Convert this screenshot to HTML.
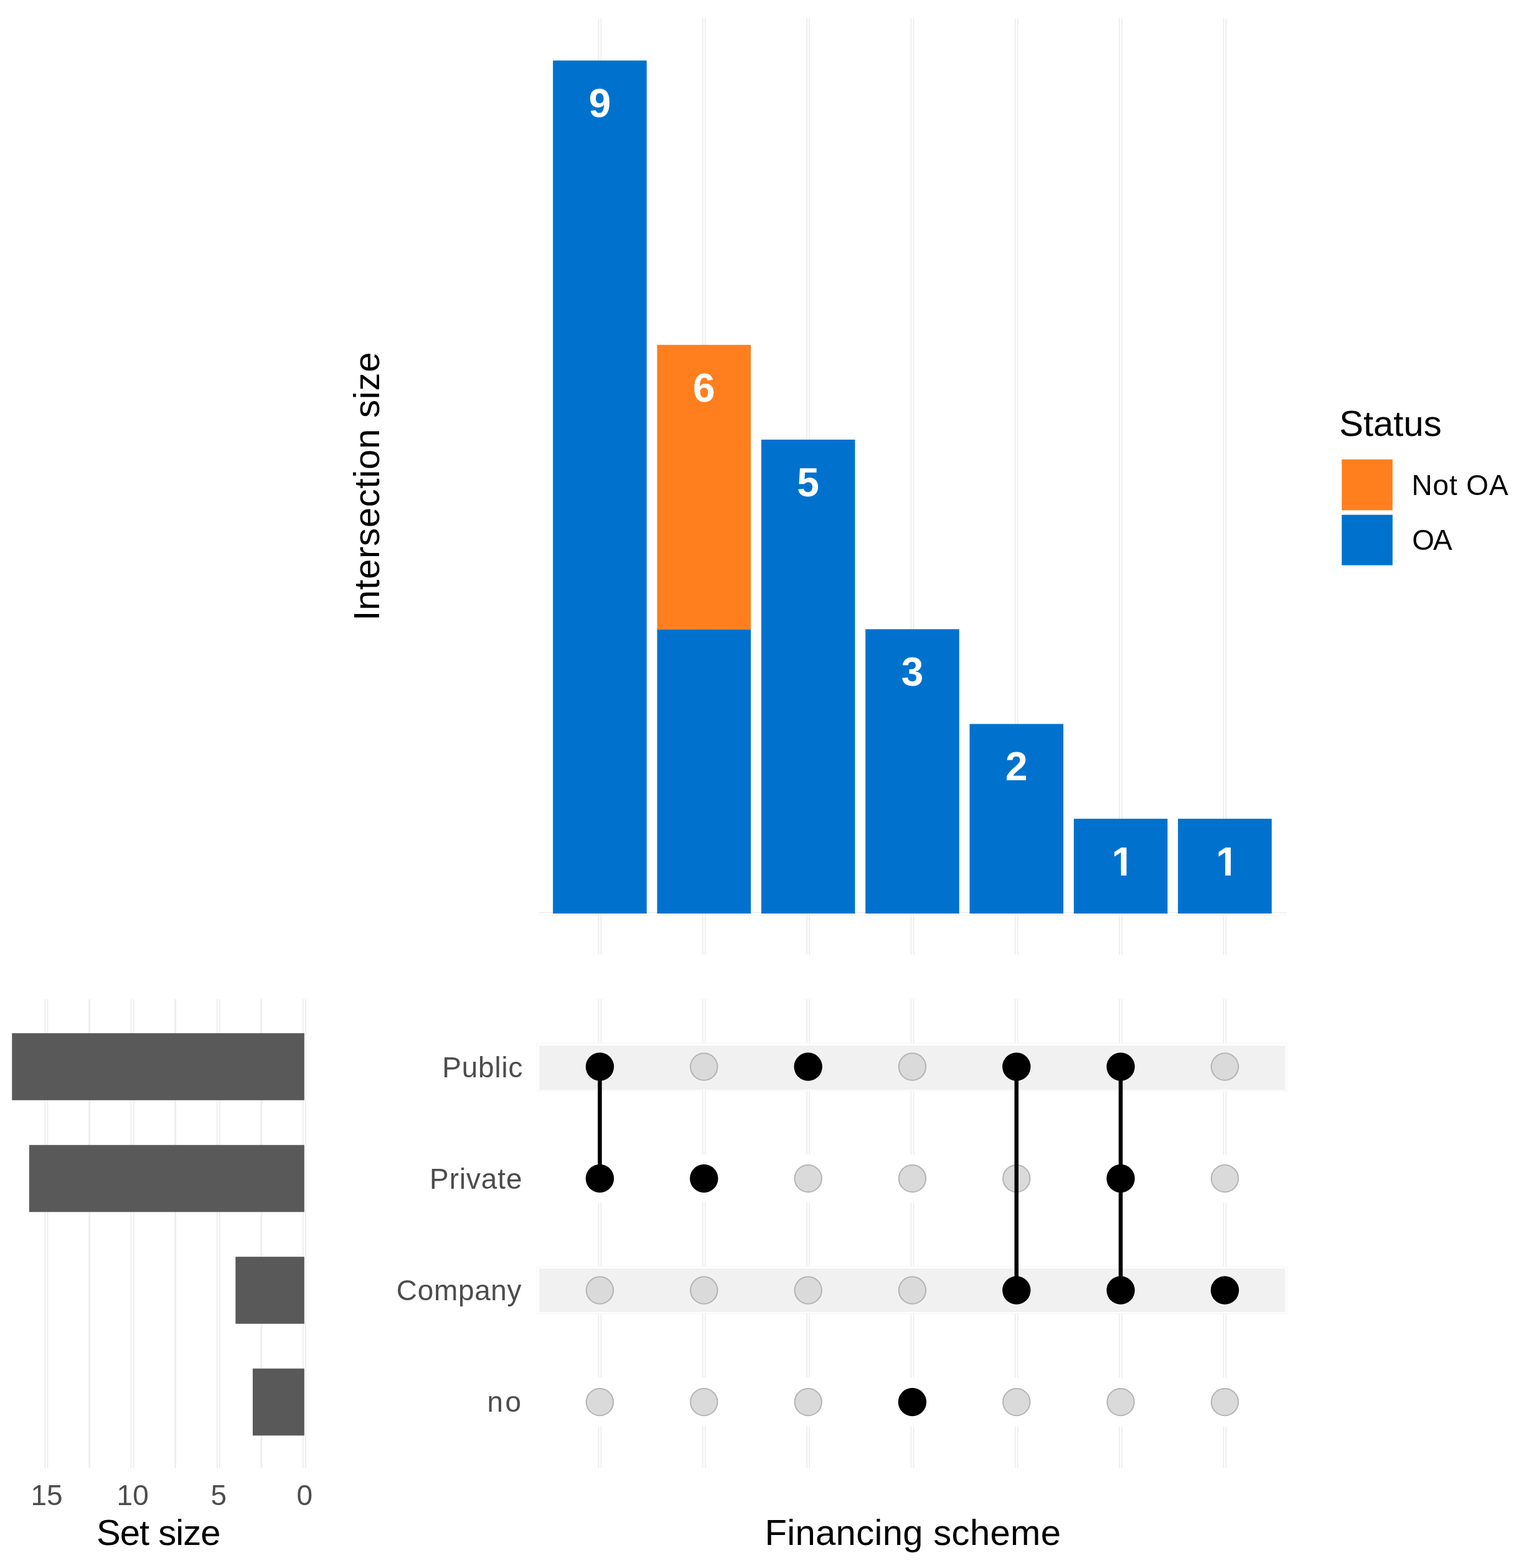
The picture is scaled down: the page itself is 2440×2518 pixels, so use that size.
<!DOCTYPE html>
<html><head><meta charset="utf-8"><title>UpSet plot: Financing scheme</title>
<style>
html,body{margin:0;padding:0;background:#fff;}
body{width:2440px;height:2518px;overflow:hidden;}
svg{display:block;}
text{font-family:"Liberation Sans",Arial,Helvetica,sans-serif;}
.lab{font-size:64px;font-weight:bold;fill:#fff;}
.ttl{font-size:58px;fill:#000;}
.leg{font-size:46px;fill:#000;}
.axt{font-size:46px;fill:#4D4D4D;}
</style></head>
<body>
<svg width="2440" height="2518" viewBox="0 0 2440 2518">
<rect x="0" y="0" width="2440" height="2518" fill="#fff"/>
<line x1="961.50" y1="29" x2="961.50" y2="1533" stroke="#EBEBEB" stroke-width="1.6"/>
<line x1="965.50" y1="29" x2="965.50" y2="1533" stroke="#EBEBEB" stroke-width="1.6"/>
<line x1="1128.83" y1="29" x2="1128.83" y2="1533" stroke="#EBEBEB" stroke-width="1.6"/>
<line x1="1132.83" y1="29" x2="1132.83" y2="1533" stroke="#EBEBEB" stroke-width="1.6"/>
<line x1="1296.16" y1="29" x2="1296.16" y2="1533" stroke="#EBEBEB" stroke-width="1.6"/>
<line x1="1300.16" y1="29" x2="1300.16" y2="1533" stroke="#EBEBEB" stroke-width="1.6"/>
<line x1="1463.49" y1="29" x2="1463.49" y2="1533" stroke="#EBEBEB" stroke-width="1.6"/>
<line x1="1467.49" y1="29" x2="1467.49" y2="1533" stroke="#EBEBEB" stroke-width="1.6"/>
<line x1="1630.82" y1="29" x2="1630.82" y2="1533" stroke="#EBEBEB" stroke-width="1.6"/>
<line x1="1634.82" y1="29" x2="1634.82" y2="1533" stroke="#EBEBEB" stroke-width="1.6"/>
<line x1="1798.15" y1="29" x2="1798.15" y2="1533" stroke="#EBEBEB" stroke-width="1.6"/>
<line x1="1802.15" y1="29" x2="1802.15" y2="1533" stroke="#EBEBEB" stroke-width="1.6"/>
<line x1="1965.48" y1="29" x2="1965.48" y2="1533" stroke="#EBEBEB" stroke-width="1.6"/>
<line x1="1969.48" y1="29" x2="1969.48" y2="1533" stroke="#EBEBEB" stroke-width="1.6"/>
<line x1="864.5" y1="1465.5" x2="2066.5" y2="1465.5" stroke="#ECECEC" stroke-width="1.6"/>
<line x1="864.5" y1="1469.5" x2="2066.5" y2="1469.5" stroke="#F6F6F6" stroke-width="1.6"/>
<rect x="888.20" y="97.20" width="150.6" height="1369.80" fill="#0072CE"/>
<text x="963.50" y="188.00" text-anchor="middle" class="lab">9</text>
<rect x="1055.53" y="1010.40" width="150.6" height="456.60" fill="#0072CE"/>
<rect x="1055.53" y="553.80" width="150.6" height="456.60" fill="#FF7F1E"/>
<text x="1130.83" y="644.60" text-anchor="middle" class="lab">6</text>
<rect x="1222.86" y="706.00" width="150.6" height="761.00" fill="#0072CE"/>
<text x="1298.16" y="796.80" text-anchor="middle" class="lab">5</text>
<rect x="1390.19" y="1010.40" width="150.6" height="456.60" fill="#0072CE"/>
<text x="1465.49" y="1101.20" text-anchor="middle" class="lab">3</text>
<rect x="1557.52" y="1162.60" width="150.6" height="304.40" fill="#0072CE"/>
<text x="1632.82" y="1253.40" text-anchor="middle" class="lab">2</text>
<rect x="1724.85" y="1314.80" width="150.6" height="152.20" fill="#0072CE"/>
<text x="1803.65" y="1405.60" text-anchor="middle" class="lab">1</text>
<rect x="1787.88" y="1398.77" width="12.91" height="8.53" fill="#0072CE"/>
<rect x="1809.57" y="1398.77" width="12.09" height="8.53" fill="#0072CE"/>
<rect x="1892.18" y="1314.80" width="150.6" height="152.20" fill="#0072CE"/>
<text x="1970.98" y="1405.60" text-anchor="middle" class="lab">1</text>
<rect x="1955.21" y="1398.77" width="12.91" height="8.53" fill="#0072CE"/>
<rect x="1976.90" y="1398.77" width="12.09" height="8.53" fill="#0072CE"/>
<text transform="translate(609.0,781.2) rotate(-90)" text-anchor="middle" textLength="431.30" lengthAdjust="spacing" class="ttl">Intersection size</text>
<text x="2151.30" y="700.40" class="ttl">Status</text>
<rect x="2155.3" y="737.7" width="81.6" height="81.7" fill="#FF7F1E"/>
<rect x="2155.3" y="826.7" width="81.6" height="81.0" fill="#0072CE"/>
<text x="2267.50" y="794.80" textLength="155.20" lengthAdjust="spacing" class="leg">Not OA</text>
<text x="2268.20" y="883.20" textLength="64.60" lengthAdjust="spacing" class="leg">OA</text>
<line x1="961.50" y1="1604.5" x2="961.50" y2="2357" stroke="#EBEBEB" stroke-width="1.6"/>
<line x1="965.50" y1="1604.5" x2="965.50" y2="2357" stroke="#EBEBEB" stroke-width="1.6"/>
<line x1="1128.83" y1="1604.5" x2="1128.83" y2="2357" stroke="#EBEBEB" stroke-width="1.6"/>
<line x1="1132.83" y1="1604.5" x2="1132.83" y2="2357" stroke="#EBEBEB" stroke-width="1.6"/>
<line x1="1296.16" y1="1604.5" x2="1296.16" y2="2357" stroke="#EBEBEB" stroke-width="1.6"/>
<line x1="1300.16" y1="1604.5" x2="1300.16" y2="2357" stroke="#EBEBEB" stroke-width="1.6"/>
<line x1="1463.49" y1="1604.5" x2="1463.49" y2="2357" stroke="#EBEBEB" stroke-width="1.6"/>
<line x1="1467.49" y1="1604.5" x2="1467.49" y2="2357" stroke="#EBEBEB" stroke-width="1.6"/>
<line x1="1630.82" y1="1604.5" x2="1630.82" y2="2357" stroke="#EBEBEB" stroke-width="1.6"/>
<line x1="1634.82" y1="1604.5" x2="1634.82" y2="2357" stroke="#EBEBEB" stroke-width="1.6"/>
<line x1="1798.15" y1="1604.5" x2="1798.15" y2="2357" stroke="#EBEBEB" stroke-width="1.6"/>
<line x1="1802.15" y1="1604.5" x2="1802.15" y2="2357" stroke="#EBEBEB" stroke-width="1.6"/>
<line x1="1965.48" y1="1604.5" x2="1965.48" y2="2357" stroke="#EBEBEB" stroke-width="1.6"/>
<line x1="1969.48" y1="1604.5" x2="1969.48" y2="2357" stroke="#EBEBEB" stroke-width="1.6"/>
<rect x="861.8" y="1674.6" width="1206.4" height="78.0" fill="#F7F7F7"/>
<rect x="863.0" y="1675.8" width="1204.0" height="75.6" fill="#FFFFFF"/>
<rect x="866.0" y="1679.0" width="1198.4" height="71.2" fill="#F1F1F1"/>
<rect x="861.8" y="1854.0" width="1206.4" height="77.0" fill="#FFFFFF"/>
<rect x="861.8" y="2033.2" width="1206.4" height="76.8" fill="#F7F7F7"/>
<rect x="863.0" y="2034.4" width="1204.0" height="74.4" fill="#FFFFFF"/>
<rect x="866.0" y="2036.9" width="1198.4" height="70.1" fill="#F1F1F1"/>
<rect x="861.8" y="2212.5" width="1206.4" height="78.0" fill="#FFFFFF"/>
<circle cx="963.50" cy="2072.0" r="21.7" fill="#DADADA" stroke="#B4B4B4" stroke-width="2"/>
<circle cx="963.50" cy="2251.5" r="21.7" fill="#DADADA" stroke="#B4B4B4" stroke-width="2"/>
<circle cx="1130.83" cy="1713.0" r="21.7" fill="#DADADA" stroke="#B4B4B4" stroke-width="2"/>
<circle cx="1130.83" cy="2072.0" r="21.7" fill="#DADADA" stroke="#B4B4B4" stroke-width="2"/>
<circle cx="1130.83" cy="2251.5" r="21.7" fill="#DADADA" stroke="#B4B4B4" stroke-width="2"/>
<circle cx="1298.16" cy="1892.5" r="21.7" fill="#DADADA" stroke="#B4B4B4" stroke-width="2"/>
<circle cx="1298.16" cy="2072.0" r="21.7" fill="#DADADA" stroke="#B4B4B4" stroke-width="2"/>
<circle cx="1298.16" cy="2251.5" r="21.7" fill="#DADADA" stroke="#B4B4B4" stroke-width="2"/>
<circle cx="1465.49" cy="1713.0" r="21.7" fill="#DADADA" stroke="#B4B4B4" stroke-width="2"/>
<circle cx="1465.49" cy="1892.5" r="21.7" fill="#DADADA" stroke="#B4B4B4" stroke-width="2"/>
<circle cx="1465.49" cy="2072.0" r="21.7" fill="#DADADA" stroke="#B4B4B4" stroke-width="2"/>
<circle cx="1632.82" cy="1892.5" r="21.7" fill="#DADADA" stroke="#B4B4B4" stroke-width="2"/>
<circle cx="1632.82" cy="2251.5" r="21.7" fill="#DADADA" stroke="#B4B4B4" stroke-width="2"/>
<circle cx="1800.15" cy="2251.5" r="21.7" fill="#DADADA" stroke="#B4B4B4" stroke-width="2"/>
<circle cx="1967.48" cy="1713.0" r="21.7" fill="#DADADA" stroke="#B4B4B4" stroke-width="2"/>
<circle cx="1967.48" cy="1892.5" r="21.7" fill="#DADADA" stroke="#B4B4B4" stroke-width="2"/>
<circle cx="1967.48" cy="2251.5" r="21.7" fill="#DADADA" stroke="#B4B4B4" stroke-width="2"/>
<line x1="963.50" y1="1713.0" x2="963.50" y2="1892.5" stroke="#000" stroke-width="6.5"/>
<circle cx="963.50" cy="1713.0" r="22.7" fill="#000"/>
<circle cx="963.50" cy="1892.5" r="22.7" fill="#000"/>
<circle cx="1130.83" cy="1892.5" r="22.7" fill="#000"/>
<circle cx="1298.16" cy="1713.0" r="22.7" fill="#000"/>
<circle cx="1465.49" cy="2251.5" r="22.7" fill="#000"/>
<line x1="1632.82" y1="1713.0" x2="1632.82" y2="2072.0" stroke="#000" stroke-width="6.5"/>
<circle cx="1632.82" cy="1713.0" r="22.7" fill="#000"/>
<circle cx="1632.82" cy="2072.0" r="22.7" fill="#000"/>
<line x1="1800.15" y1="1713.0" x2="1800.15" y2="2072.0" stroke="#000" stroke-width="6.5"/>
<circle cx="1800.15" cy="1713.0" r="22.7" fill="#000"/>
<circle cx="1800.15" cy="1892.5" r="22.7" fill="#000"/>
<circle cx="1800.15" cy="2072.0" r="22.7" fill="#000"/>
<circle cx="1967.48" cy="2072.0" r="22.7" fill="#000"/>
<text x="839.40" y="1729.70" text-anchor="end" textLength="129.20" lengthAdjust="spacing" class="axt">Public</text>
<text x="838.60" y="1908.90" text-anchor="end" textLength="148.50" lengthAdjust="spacing" class="axt">Private</text>
<text x="837.60" y="2088.00" text-anchor="end" textLength="200.80" lengthAdjust="spacing" class="axt">Company</text>
<text x="837.00" y="2267.30" text-anchor="end" textLength="54.40" lengthAdjust="spacing" class="axt">no</text>
<line x1="72.50" y1="1604.5" x2="72.50" y2="2357" stroke="#EBEBEB" stroke-width="1.6"/>
<line x1="76.50" y1="1604.5" x2="76.50" y2="2357" stroke="#EBEBEB" stroke-width="1.6"/>
<line x1="143.55" y1="1604.5" x2="143.55" y2="2357" stroke="#EDEDED" stroke-width="2.6"/>
<line x1="210.60" y1="1604.5" x2="210.60" y2="2357" stroke="#EBEBEB" stroke-width="1.6"/>
<line x1="214.60" y1="1604.5" x2="214.60" y2="2357" stroke="#EBEBEB" stroke-width="1.6"/>
<line x1="281.65" y1="1604.5" x2="281.65" y2="2357" stroke="#EDEDED" stroke-width="2.6"/>
<line x1="348.70" y1="1604.5" x2="348.70" y2="2357" stroke="#EBEBEB" stroke-width="1.6"/>
<line x1="352.70" y1="1604.5" x2="352.70" y2="2357" stroke="#EBEBEB" stroke-width="1.6"/>
<line x1="419.75" y1="1604.5" x2="419.75" y2="2357" stroke="#EDEDED" stroke-width="2.6"/>
<line x1="486.80" y1="1604.5" x2="486.80" y2="2357" stroke="#EBEBEB" stroke-width="1.6"/>
<line x1="490.80" y1="1604.5" x2="490.80" y2="2357" stroke="#EBEBEB" stroke-width="1.6"/>
<rect x="19.26" y="1659.20" width="469.54" height="107.6" fill="#595959"/>
<rect x="46.88" y="1838.70" width="441.92" height="107.6" fill="#595959"/>
<rect x="378.32" y="2018.20" width="110.48" height="107.6" fill="#595959"/>
<rect x="405.94" y="2197.70" width="82.86" height="107.6" fill="#595959"/>
<text x="75.10" y="2416.90" text-anchor="middle" class="axt">15</text>
<text x="213.20" y="2416.90" text-anchor="middle" class="axt">10</text>
<text x="351.30" y="2416.90" text-anchor="middle" class="axt">5</text>
<text x="489.40" y="2416.90" text-anchor="middle" class="axt">0</text>
<text x="254.80" y="2481.20" text-anchor="middle" textLength="199.40" lengthAdjust="spacing" class="ttl">Set size</text>
<text x="1466.20" y="2481.00" text-anchor="middle" textLength="475.50" lengthAdjust="spacing" class="ttl">Financing scheme</text>
</svg>
</body></html>
